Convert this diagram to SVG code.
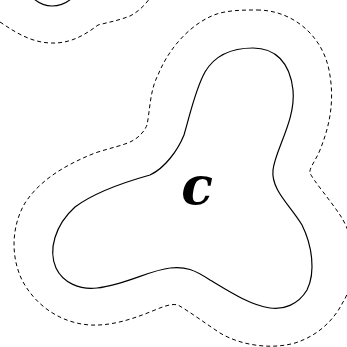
<svg xmlns="http://www.w3.org/2000/svg" width="347" height="347" viewBox="0 0 347 347">
<style>
.solid{fill:none;stroke:#000;stroke-width:1.2}
.dash{fill:none;stroke:#000;stroke-width:1;stroke-dasharray:4 3}
.lbl{font-family:"DejaVu Serif",serif;font-weight:bold;font-style:italic;font-size:52px;fill:#000}
</style>
<rect width="347" height="347" fill="#fff"/>
<g id="corner">
<path class="solid" d="M 30,-5 C 38,4 45,6 52,6 C 60,6 68,3 75,-5"/>
<path class="dash" d="M 0,22 C 15,32 30,42 50,43 C 70,44 85,35 98,25 C 110,22 120,20 130,16 C 138,12 145,5 150,-2"/>
</g>
<g id="c">
<path class="dash" d="M 257,10 C 292,10 322,35 329,70 C 335,100 330,125 320,150 C 315,162 309,168 310,173 C 313,180 330,200 340,215 C 350,230 355,250 352,270 C 350,285 348,295 343,302 C 335,318 320,335 295,343 C 270,350 240,345 220,333 C 205,323 190,312 178,305 C 170,303 160,308 150,312 C 130,320 110,326 90,325 C 60,323 35,305 22,280 C 10,255 12,225 25,203 C 40,180 65,165 95,153 C 110,148 125,145 132,141 C 140,137 145,130 147,125 C 150,110 150,90 158,75 C 170,45 195,20 220,13 C 233,10 245,10 257,10 Z"/>
<path class="solid" d="M 253,48 C 275,48 290,62 293,90 C 296,120 275,150 273,170 C 271,190 290,205 302,225 C 312,245 316,272 307,290 C 298,305 283,310 270,308 C 250,305 230,292 210,280 C 195,270 185,266 170,268 C 150,270 125,285 97,288 C 80,290 63,283 56,268 C 48,250 55,225 75,207 C 95,192 125,182 150,175 C 165,168 178,150 184,135 C 190,115 195,90 205,72 C 215,55 232,48 253,48 Z"/>
<text class="lbl" x="197" y="204" text-anchor="middle">c</text>
</g>
</svg>
